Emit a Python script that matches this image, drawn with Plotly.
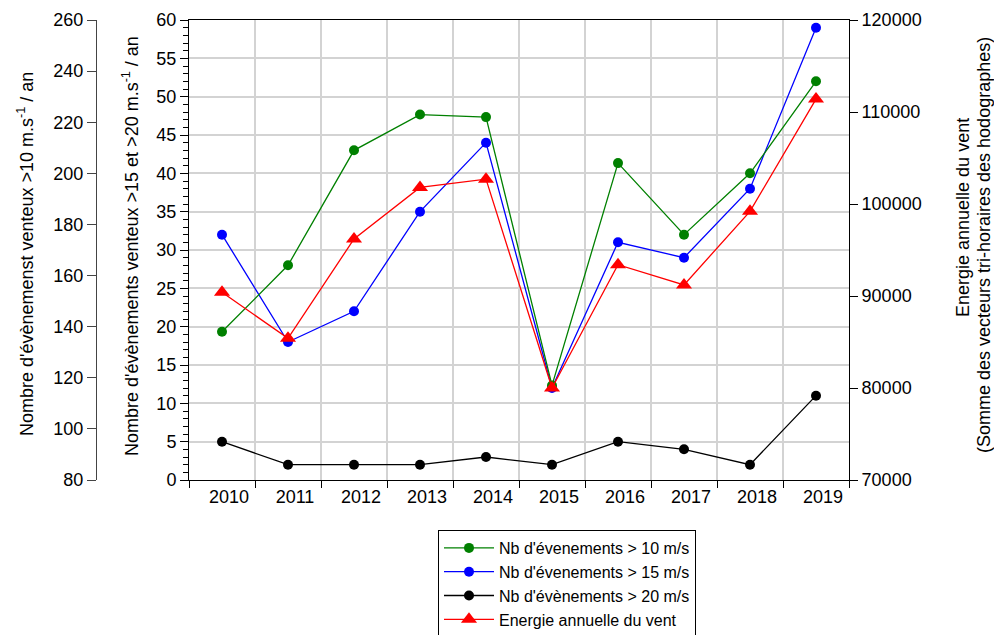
import plotly.graph_objects as go

years = ["2010", "2011", "2012", "2013", "2014", "2015", "2016", "2017", "2018", "2019"]
nb_10 = [138, 164, 209, 223, 222, 117, 204, 176, 200, 236]
nb_15 = [32, 18, 22, 35, 44, 12, 31, 29, 38, 59]
nb_20 = [5, 2, 2, 2, 3, 2, 5, 4, 2, 11]
energie = [90400, 85400, 96200, 101800, 102700, 80000, 93400, 91200, 99200, 111400]

W, H = 994, 635
L_PX, R_PX, T_PX, B_PX = 189, 849, 20, 480
FONT = "Arial, Liberation Sans, sans-serif"

def px_x(p):
    return p / W

def px_y(p):
    return (B_PX - p) / (B_PX - T_PX)

fig = go.Figure()
fig.add_trace(go.Scatter(x=years, y=nb_10, yaxis="y2", mode="lines+markers",
                         name="Nb d'évenements > 10 m/s",
                         line=dict(color="#008000", width=1.3),
                         marker=dict(color="#008000", size=10, symbol="circle")))
fig.add_trace(go.Scatter(x=years, y=nb_15, yaxis="y", mode="lines+markers",
                         name="Nb d'évenements > 15 m/s",
                         line=dict(color="#0000ff", width=1.3),
                         marker=dict(color="#0000ff", size=10, symbol="circle")))
fig.add_trace(go.Scatter(x=years, y=nb_20, yaxis="y", mode="lines+markers",
                         name="Nb d'évènements > 20 m/s",
                         line=dict(color="#000000", width=1.3),
                         marker=dict(color="#000000", size=10, symbol="circle")))
fig.add_trace(go.Scatter(x=years, y=energie, yaxis="y3", mode="lines+markers",
                         name="Energie annuelle du vent",
                         line=dict(color="#ff0000", width=1.3),
                         marker=dict(color="#ff0000", size=14, symbol="triangle-up")))

grid_col = "#d3d3d3"
fig.update_layout(
    width=W, height=H,
    margin=dict(l=0, r=0, t=T_PX, b=H - B_PX, autoexpand=False),
    paper_bgcolor="white", plot_bgcolor="white",
    font=dict(family=FONT, size=18, color="black"),
    xaxis=dict(type="category", domain=[px_x(L_PX), px_x(R_PX)], range=[-0.5, 9.5],
               tickson="boundaries", ticks="outside", ticklen=7, tickcolor="black",
               showgrid=True, gridcolor=grid_col, gridwidth=1.5,
               showline=True, linecolor="black", linewidth=1, mirror=True,
               ticklabelshift=7, automargin=False, zeroline=False),
    yaxis=dict(range=[0, 60], dtick=5, ticks="outside", ticklen=8, tickcolor="black",
               showgrid=True, gridcolor=grid_col, gridwidth=1.5,
               showline=True, linecolor="black", linewidth=1, zeroline=False,
               minor=dict(dtick=1, ticks="outside", ticklen=5, tickcolor="black", showgrid=False),
               automargin=False),
    yaxis2=dict(range=[80, 260], dtick=20, overlaying="y", anchor="free",
                position=px_x(96), side="left", ticks="outside", ticklen=9,
                tickcolor="#444", showgrid=False, showline=True, linecolor="#444",
                linewidth=1, zeroline=False, automargin=False),
    yaxis3=dict(range=[70000, 120000], dtick=10000, overlaying="y", anchor="x",
                side="right", ticks="outside", ticklen=8, tickcolor="black",
                showgrid=False, showline=True, linecolor="black", linewidth=1,
                zeroline=False, automargin=False, tickformat="d"),
    legend=dict(x=px_x(438), y=px_y(530), xanchor="left", yanchor="top",
                bgcolor="white", bordercolor="black", borderwidth=1,
                font=dict(family=FONT, size=16), itemwidth=50,
                traceorder="normal"),
    showlegend=True,
)

ann = [
    dict(text="Nombre d'évènemenst venteux >10 m.s<sup>-1</sup> / an", x=px_x(26), y=px_y(254)),
    dict(text="Nombre d'évènements venteux >15 et >20 m.s<sup>-1</sup> / an", x=px_x(130), y=px_y(246)),
    dict(text="Energie annuelle du vent", x=px_x(963), y=px_y(218)),
    dict(text="(Somme des vecteurs tri-horaires des hodographes)", x=px_x(984), y=px_y(245)),
]
for a in ann:
    fig.add_annotation(text=a["text"], x=a["x"], y=a["y"], xref="paper", yref="paper",
                       showarrow=False, textangle=-90, xanchor="center", yanchor="middle",
                       font=dict(family=FONT, size=18, color="black"))

fig.write_html("out.html", config={"displayModeBar": False},
               post_script="document.body.style.margin='0px';document.body.style.overflow='hidden';")
